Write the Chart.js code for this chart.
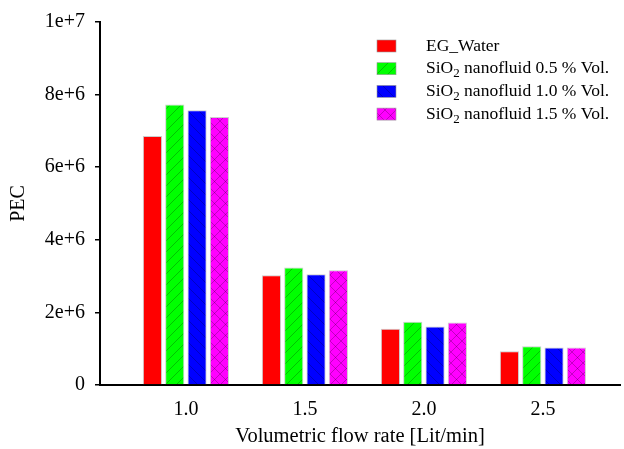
<!DOCTYPE html>
<html>
<head>
<meta charset="utf-8">
<script src="https://cdn.jsdelivr.net/npm/chart.js@4.4.1/dist/chart.umd.min.js"></script>
<style>
  html, body { margin: 0; padding: 0; background: #fff; }
  #wrap { width: 624px; height: 449px; }
</style>
</head>
<body>
<div id="wrap"><canvas id="pecChart" width="624" height="449"></canvas></div>
<script>
// flow rates (Lit/min) and PEC values
var flowRates = [1.0, 1.5, 2.0, 2.5];
var egWater = [6.86e6, 3.02e6, 1.55e6, 0.93e6];
var sio2_05 = [7.73e6, 3.24e6, 1.74e6, 1.07e6];
var sio2_10 = [7.57e6, 3.05e6, 1.61e6, 1.03e6];
var sio2_15 = [7.38e6, 3.16e6, 1.72e6, 1.03e6];
var yTicks = [0, 2e6, 4e6, 6e6, 8e6, 1e7];
var yTickLabels = ['0', '2e+6', '4e+6', '6e+6', '8e+6', '1e+7'];

var serif = "'Liberation Serif', 'Times New Roman', serif";

// hatch fill for a bar
function hatch(color, kind) {
    var n = 11;
    var c = document.createElement('canvas');
    c.width = n; c.height = n;
    var g = c.getContext('2d');
    g.fillStyle = color;
    g.fillRect(0, 0, n, n);
    g.strokeStyle = 'rgba(0,0,0,0.4)';
    g.lineWidth = 0.6;
    g.beginPath();
    if (kind === 'fwd' || kind === 'cross') {
        g.moveTo(0, n); g.lineTo(n, 0);
        g.moveTo(-1, 1); g.lineTo(1, -1);
        g.moveTo(n - 1, n + 1); g.lineTo(n + 1, n - 1);
    }
    if (kind === 'back' || kind === 'cross') {
        g.moveTo(0, 0); g.lineTo(n, n);
        g.moveTo(-1, n - 1); g.lineTo(1, n + 1);
        g.moveTo(n - 1, -1); g.lineTo(n + 1, 1);
    }
    g.stroke();
    return g.createPattern(c, 'repeat');
}

function points(vals) {
    return flowRates.map(function (f, i) { return { x: f, y: vals[i] }; });
}

var series = [
    { name: 'EG_Water', sub: '', vals: egWater, fill: '#ff0000' },
    { name: 'SiO', sub: '2', rest: ' nanofluid 0.5 % Vol.', vals: sio2_05, fill: hatch('#00ff00', 'fwd') },
    { name: 'SiO', sub: '2', rest: ' nanofluid 1.0 % Vol.', vals: sio2_10, fill: hatch('#0000ff', 'back') },
    { name: 'SiO', sub: '2', rest: ' nanofluid 1.5 % Vol.', vals: sio2_15, fill: hatch('#ff00ff', 'cross') }
];

// legend drawn inside the plot, with subscript 2
var legendPlugin = {
    id: 'boxLegend',
    afterDraw: function (chart) {
        var g = chart.ctx;
        g.save();
        series.forEach(function (s, i) {
            var y = 46 + i * 22.7;
            g.fillStyle = s.fill;
            g.fillRect(377, y - 6, 19, 12);
            g.strokeStyle = '#999';
            g.lineWidth = 0.6;
            g.strokeRect(377, y - 6, 19, 12);
            g.fillStyle = '#000';
            g.textBaseline = 'middle';
            g.font = '17.5px ' + serif;
            var x = 426;
            g.fillText(s.name, x, y);
            if (s.sub) {
                x += g.measureText(s.name).width;
                g.font = '13px ' + serif;
                g.fillText(s.sub, x, y + 5);
                x += g.measureText(s.sub).width;
                g.font = '17.5px ' + serif;
                g.fillText(s.rest, x, y);
            }
        });
        g.restore();
    }
};

var ctx = document.getElementById('pecChart').getContext('2d');
var pecChart = new Chart(ctx, {
    type: 'bar',
    data: {
        datasets: series.map(function (s) {
            return {
                label: s.name + s.sub + (s.rest || ''),
                data: points(s.vals),
                backgroundColor: s.fill,
                borderColor: 'rgba(200,200,200,0.9)',
                borderWidth: 1,
                categoryPercentage: 0.75,
                barPercentage: 0.86
            };
        })
    },
    options: {
        responsive: false,
        animation: false,
        layout: { padding: { top: 18, right: 4, left: 0, bottom: 0 } },
        plugins: { legend: { display: false }, tooltip: { enabled: false } },
        scales: {
            x: {
                type: 'linear',
                offset: false,
                min: 0.639,
                max: 2.824,
                afterBuildTicks: function (scale) {
                    scale.ticks = flowRates.map(function (v) { return { value: v }; });
                },
                afterFit: function (scale) { scale.height = 64; },
                grid: { display: false, offset: false },
                border: { color: '#000', width: 2 },
                ticks: {
                    color: '#000',
                    font: { family: serif, size: 20 },
                    padding: 5,
                    maxRotation: 0,
                    callback: function (v) { return v.toFixed(1); }
                },
                title: {
                    display: true,
                    text: 'Volumetric flow rate [Lit/min]',
                    color: '#000',
                    font: { family: serif, size: 20.5 },
                    padding: { top: 2, bottom: 0 }
                }
            },
            y: {
                min: 0,
                max: 1e7,
                afterBuildTicks: function (scale) {
                    scale.ticks = yTicks.map(function (v) { return { value: v }; });
                },
                afterFit: function (scale) { scale.width = 100; },
                grid: { drawOnChartArea: false, color: '#000', lineWidth: 1.5, tickLength: 5 },
                border: { color: '#000', width: 2 },
                ticks: {
                    color: '#000',
                    font: { family: serif, size: 20 },
                    padding: 10,
                    callback: function (v) { return yTickLabels[yTicks.indexOf(v)]; }
                },
                title: {
                    display: true,
                    text: 'PEC',
                    color: '#000',
                    font: { family: serif, size: 20 },
                    padding: { top: 7, bottom: 0 }
                }
            }
        }
    },
    plugins: [legendPlugin]
});
</script>
</body>
</html>
